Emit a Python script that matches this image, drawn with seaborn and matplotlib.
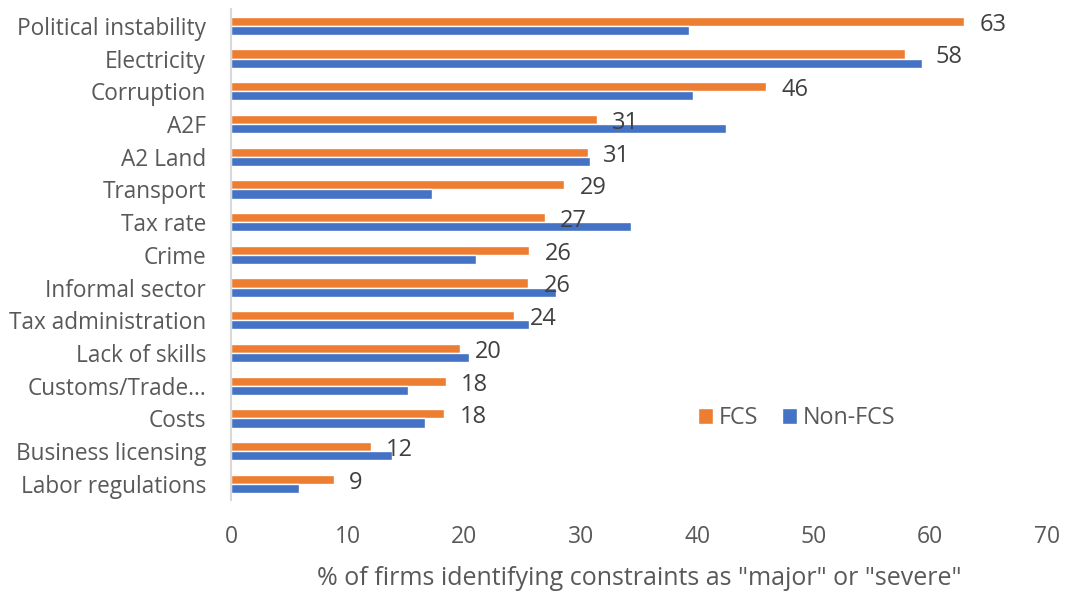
import pandas as pd
import matplotlib.pyplot as plt
import seaborn as sns

categories = ["Political instability", "Electricity", "Corruption", "A2F", "A2 Land",
              "Transport", "Tax rate", "Crime", "Informal sector", "Tax administration",
              "Lack of skills", "Customs/Trade...", "Costs", "Business licensing",
              "Labor regulations"]
fcs = [62.9, 57.8, 45.9, 31.4, 30.6, 28.6, 26.9, 25.6, 25.5, 24.3, 19.6, 18.4, 18.3, 12.0, 8.8]
non_fcs = [39.3, 59.3, 39.6, 42.5, 30.8, 17.2, 34.3, 21.0, 27.9, 25.6, 20.4, 15.2, 16.6, 13.8, 5.8]

df = pd.DataFrame({
    "Constraint": categories * 2,
    "Value": fcs + non_fcs,
    "Group": ["FCS"] * len(categories) + ["Non-FCS"] * len(categories),
})

sns.set_theme(style="white")
plt.rcParams['font.family'] = ['Open Sans', 'DejaVu Sans']

fig = plt.figure(figsize=(10.65, 5.92), dpi=100)
ax = fig.add_axes([0.217, 0.155, 0.766, 0.829])

sns.barplot(data=df, y="Constraint", x="Value", hue="Group", orient="h",
            palette={"FCS": "#ED7D31", "Non-FCS": "#4472C4"}, width=0.56,
            order=categories, hue_order=["FCS", "Non-FCS"], saturation=1, ax=ax)

# value labels on the FCS bars only (the Electricity one was nudged right past the blue bar)
for i, bar in enumerate(ax.containers[0]):
    w = bar.get_width()
    dx = 22 if categories[i] == "Electricity" else 11
    ax.annotate(f"{w:.0f}", (w, bar.get_y() + bar.get_height() / 2),
                xytext=(dx, -2.5), textcoords="offset points", va="center", ha="left",
                fontsize=17, color="#404040")

ax.set_xlim(0, 70)
ax.set_xticks(range(0, 71, 10))
ax.set_ylabel("")
ax.set_xlabel('% of firms identifying constraints as "major" or "severe"',
              fontsize=18, color="#595959", labelpad=12)
ax.tick_params(axis="x", length=0, pad=18, labelsize=16.5, labelcolor="#595959")
ax.tick_params(axis="y", length=0, pad=18, labelsize=16.3, labelcolor="#595959")
for side in ["top", "right", "bottom"]:
    ax.spines[side].set_visible(False)
ax.spines["left"].set_color("#d9d9d9")
ax.spines["left"].set_linewidth(1.5)

ax.legend(loc="center", bbox_to_anchor=(0.693, 0.167), ncol=2, frameon=False,
          fontsize=16.8, handlelength=0.65, handleheight=0.65, handletextpad=0.25,
          columnspacing=1.0, labelcolor="#595959")

plt.savefig("out.png", dpi=100)
